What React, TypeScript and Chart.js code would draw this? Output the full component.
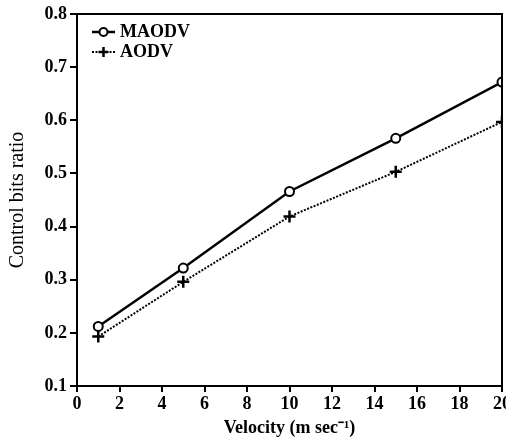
import React, { useEffect, useRef } from "react";
import { Chart, registerables } from "chart.js";

Chart.register(...registerables);

const velocities = [1, 5, 10, 15, 20];
const maodvValues = [0.212, 0.322, 0.466, 0.566, 0.672];
const aodvValues = [0.193, 0.296, 0.419, 0.503, 0.597];
const seriesNames = ["MAODV", "AODV"];
const xTitle = "Velocity (m sec\u207B\u00B9)";
const yTitle = "Control bits ratio";

const FONT = "'Liberation Serif', 'Times New Roman', serif";

const frameAndLegend = {
  id: "frameAndLegend",
  afterDatasetsDraw(chart: any) {
    const { ctx, chartArea } = chart;
    ctx.save();
    ctx.strokeStyle = "#000";
    ctx.lineWidth = 2;
    ctx.beginPath();
    ctx.moveTo(chartArea.left, chartArea.top);
    ctx.lineTo(chartArea.right, chartArea.top);
    ctx.lineTo(chartArea.right, chartArea.bottom);
    ctx.stroke();

    const lx0 = chartArea.left + 15;
    const lx1 = chartArea.left + 38;
    const mx = (lx0 + lx1) / 2;
    const rows = [chartArea.top + 18, chartArea.top + 38];
    // MAODV sample
    ctx.setLineDash([]);
    ctx.lineWidth = 2.5;
    ctx.beginPath();
    ctx.moveTo(lx0, rows[0]);
    ctx.lineTo(lx1, rows[0]);
    ctx.stroke();
    ctx.fillStyle = "#fff";
    ctx.lineWidth = 2;
    ctx.beginPath();
    ctx.arc(mx, rows[0], 4, 0, Math.PI * 2);
    ctx.fill();
    ctx.stroke();
    // AODV sample
    ctx.setLineDash([2, 1.5]);
    ctx.lineWidth = 2;
    ctx.beginPath();
    ctx.moveTo(lx0, rows[1]);
    ctx.lineTo(lx1, rows[1]);
    ctx.stroke();
    ctx.setLineDash([]);
    ctx.lineWidth = 2.5;
    ctx.beginPath();
    ctx.moveTo(mx - 5, rows[1]);
    ctx.lineTo(mx + 5, rows[1]);
    ctx.moveTo(mx, rows[1] - 5);
    ctx.lineTo(mx, rows[1] + 5);
    ctx.stroke();

    ctx.fillStyle = "#000";
    ctx.font = `bold 18px ${FONT}`;
    ctx.textAlign = "left";
    ctx.textBaseline = "middle";
    ctx.fillText(seriesNames[0], lx1 + 5, rows[0]);
    ctx.fillText(seriesNames[1], lx1 + 5, rows[1]);
    ctx.restore();
  },
};

export default function App() {
  const ref = useRef<HTMLCanvasElement | null>(null);
  useEffect(() => {
    if (!ref.current) return;
    const chart = new Chart(ref.current, {
      type: "line",
      data: {
        datasets: [
          {
            label: seriesNames[0],
            data: velocities.map((x, i) => ({ x, y: maodvValues[i] })),
            borderColor: "#000",
            borderWidth: 2.5,
            pointStyle: "circle",
            pointRadius: 4.5,
            pointBorderWidth: 2,
            pointBackgroundColor: "#fff",
            pointBorderColor: "#000",
            tension: 0,
          },
          {
            label: seriesNames[1],
            data: velocities.map((x, i) => ({ x, y: aodvValues[i] })),
            borderColor: "#000",
            borderWidth: 2,
            borderDash: [2, 1.5],
            pointStyle: "cross",
            pointRadius: 6,
            pointBorderWidth: 2.5,
            pointBorderColor: "#000",
            tension: 0,
          },
        ],
      },
      options: {
        responsive: false,
        animation: false,
        layout: { padding: { top: 14, right: 18, left: 0, bottom: 0 } },
        plugins: { legend: { display: false }, tooltip: { enabled: false } },
        scales: {
          x: {
            type: "linear",
            min: 0,
            max: 20,
            afterFit: (s: any) => {
              s.height = 59;
            },
            ticks: {
              stepSize: 2,
              color: "#000",
              padding: 2,
              maxRotation: 0,
              font: { family: FONT, size: 18, weight: "bold" },
            },
            grid: { drawOnChartArea: false, drawTicks: true, tickLength: 6, color: "#000", lineWidth: 2 },
            border: { color: "#000", width: 2 },
            title: {
              display: true,
              text: xTitle,
              color: "#000",
              padding: { top: 0, bottom: 6 },
              font: { family: FONT, size: 18, weight: "bold" },
            },
          },
          y: {
            min: 0.1,
            max: 0.8,
            afterFit: (s: any) => {
              s.width = 77;
            },
            ticks: {
              stepSize: 0.1,
              color: "#000",
              padding: 3,
              callback: (v: any) => Number(v).toFixed(1),
              font: { family: FONT, size: 18, weight: "bold" },
            },
            grid: { drawOnChartArea: false, drawTicks: true, tickLength: 7, color: "#000", lineWidth: 2 },
            border: { color: "#000", width: 2 },
            title: {
              display: true,
              text: yTitle,
              color: "#000",
              padding: { top: 6, bottom: 0 },
              font: { family: FONT, size: 20, weight: "normal" },
            },
          },
        },
      },
      plugins: [frameAndLegend],
    });
    return () => chart.destroy();
  }, []);
  return (
    <div style={{ position: "fixed", left: 0, top: 0, width: 506, height: 445, overflow: "hidden", background: "#fff" }}>
      <canvas ref={ref} width={520} height={445} style={{ display: "block" }} />
    </div>
  );
}
